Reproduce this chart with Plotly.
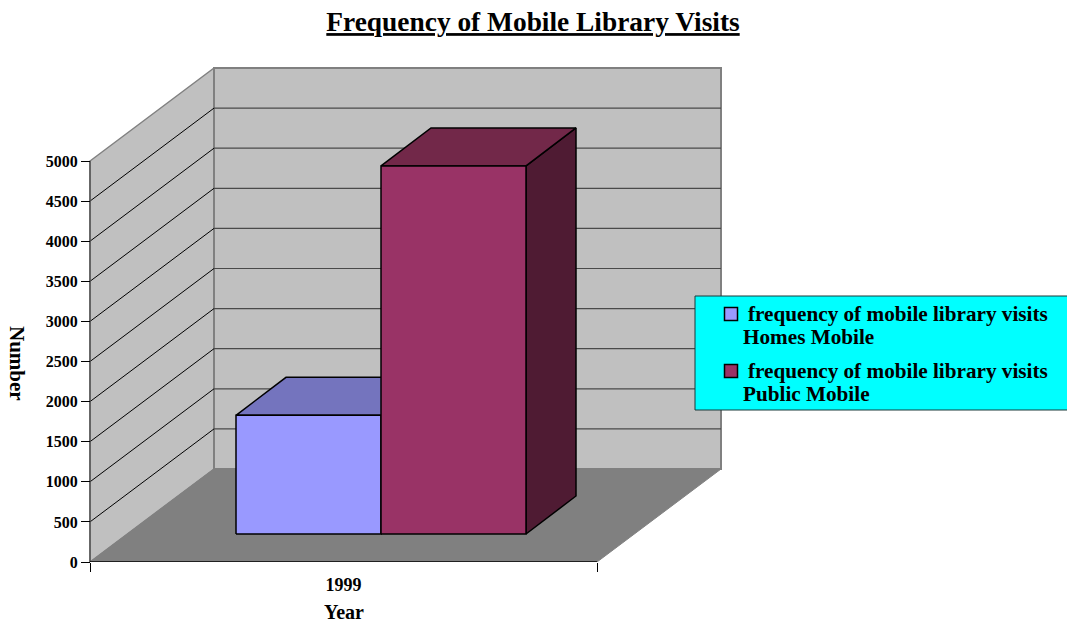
import plotly.graph_objects as go

# ---- data ----
categories = ["1999"]
legend_lines = [["frequency of mobile library visits", "Homes Mobile"],
                ["frequency of mobile library visits", "Public Mobile"]]
homes_mobile = [1480]
public_mobile = [4590]
y_ticks = [0, 500, 1000, 1500, 2000, 2500, 3000, 3500, 4000, 4500, 5000]
face_colors = ["#9999FF", "#993366"]
top_colors = ["#7474BE", "#722849"]
side_colors = ["#5F5F9E", "#4F1B33"]

# ---- oblique projection (x unit = 1 px, y unit = value) ----
W, H = 1067, 625
PX_PER_VALUE = 401 / 5000
AX_LEFT, AX_BASE = 90, 562
BAND = 507
DEPTH_X, DEPTH_Y = 124, 93 / PX_PER_VALUE
YMAX = AX_BASE / PX_PER_VALUE
FONT = "Liberation Serif"

fig = go.Figure()


def poly(xs, ys, fill=None, line="#000000", width=1, name=None):
    fig.add_trace(go.Scatter(
        x=xs, y=ys, mode="lines", hoverinfo="skip", showlegend=False, name=name,
        fill="toself" if fill else None, fillcolor=fill,
        line=dict(color=line, width=width)))


# walls and floor
ymax_tick = y_ticks[-1]
poly([0, DEPTH_X, DEPTH_X, 0, 0], [0, DEPTH_Y, DEPTH_Y + ymax_tick, ymax_tick, 0], "#C0C0C0", "#808080", 1.5)
poly([DEPTH_X, DEPTH_X + BAND, DEPTH_X + BAND, DEPTH_X, DEPTH_X],
     [DEPTH_Y, DEPTH_Y, DEPTH_Y + ymax_tick, DEPTH_Y + ymax_tick, DEPTH_Y], "#C0C0C0", "#808080", 2)
poly([0, BAND, BAND + DEPTH_X, DEPTH_X, 0], [0, 0, DEPTH_Y, DEPTH_Y, 0], "#808080", "#808080", 1)

# gridlines
for t in y_ticks[1:-1]:
    poly([0, DEPTH_X], [t, t + DEPTH_Y], None, "#000000", 1)
for t in y_ticks[1:-1]:
    poly([DEPTH_X, DEPTH_X + BAND], [t + DEPTH_Y, t + DEPTH_Y], None, "#4A4A4A", 1.2)

# axis lines
poly([0, 0], [0, ymax_tick], None, "#555555", 1.5)
poly([0, BAND], [0, 0], None, "#000000", 1.5)

# bars
BAR_W = 145
BAR_X0 = 146
BAR_BASE = 28 / PX_PER_VALUE
BAR_DX, BAR_DY = 50, 38 / PX_PER_VALUE
series = [homes_mobile, public_mobile]
for i in range(2):
    v = series[i][0]
    x0 = BAR_X0 + i * BAR_W
    x1 = x0 + BAR_W
    y0 = BAR_BASE
    y1 = BAR_BASE + v
    nm = " ".join(legend_lines[i])
    poly([x1, x1 + BAR_DX, x1 + BAR_DX, x1, x1], [y0, y0 + BAR_DY, y1 + BAR_DY, y1, y0], side_colors[i], "#000000", 1.5, nm)
    poly([x0, x0 + BAR_DX, x1 + BAR_DX, x1, x0], [y1, y1 + BAR_DY, y1 + BAR_DY, y1, y1], top_colors[i], "#000000", 1.5, nm)
    poly([x0, x1, x1, x0, x0], [y0, y0, y1, y1, y0], face_colors[i], "#000000", 1.5, nm)


def px_x(p):
    return p / W


def px_y(p):
    return 1 - p / H


# legend panel
shapes = [dict(type="rect", xref="paper", yref="paper", x0=px_x(695), x1=px_x(1068),
               y0=px_y(296), y1=px_y(410), fillcolor="#00FFFF",
               line=dict(color="#1A3A3A", width=1))]
annotations = []
LEG_FONT = dict(family=FONT, size=21.2, color="#000000", weight="bold")
for i in range(2):
    cy = 314 + i * 57
    shapes.append(dict(type="rect", xref="paper", yref="paper",
                       x0=px_x(724.5), x1=px_x(737.5), y0=px_y(cy - 6.5), y1=px_y(cy + 6.5),
                       fillcolor=face_colors[i], line=dict(color="#000000", width=1.5)))
    annotations.append(dict(text=legend_lines[i][0], xref="paper", yref="paper", x=px_x(746),
                            y=px_y(cy), showarrow=False, xanchor="left", yanchor="middle",
                            font=LEG_FONT))
    annotations.append(dict(text=legend_lines[i][1], xref="paper", yref="paper", x=px_x(741),
                            y=px_y(cy + 23), showarrow=False, xanchor="left", yanchor="middle",
                            font=LEG_FONT))

annotations += [
    dict(text="Number", xref="paper", yref="paper", x=px_x(17), y=px_y(363),
         textangle=90, showarrow=False, xanchor="center", yanchor="middle",
         font=dict(family=FONT, size=21, color="#000000", weight="bold")),
    dict(text="Year", xref="paper", yref="paper", x=px_x(344), y=px_y(612),
         showarrow=False, xanchor="center", yanchor="middle",
         font=dict(family=FONT, size=20, color="#000000", weight="bold")),
]

fig.update_layout(
    width=W, height=H, autosize=False,
    margin=dict(l=0, r=0, t=0, b=0, autoexpand=False),
    paper_bgcolor="#FFFFFF", plot_bgcolor="#FFFFFF",
    font=dict(family=FONT, size=16, color="#000000"),
    showlegend=False,
    title=dict(text="<u>Frequency of Mobile Library Visits</u>",
               x=533 / W, xanchor="center", y=px_y(21.5), yanchor="middle",
               font=dict(family=FONT, size=27.4, color="#000000", weight="bold")),
    xaxis=dict(range=[-AX_LEFT, W - AX_LEFT], domain=[0, 1], showgrid=False, zeroline=False,
               showline=False, tickmode="array", tickvals=[BAND / 2], ticktext=categories,
               ticks="", tickfont=dict(family=FONT, size=18, color="#000000", weight="bold"),
               ticklabelstandoff=10,
               minor=dict(tickmode="array", tickvals=[0, BAND], ticks="outside", ticklen=9,
                          tickwidth=1, tickcolor="#000000", showgrid=False)),
    yaxis=dict(range=[0, YMAX], domain=[(H - AX_BASE) / H, 1], anchor="free",
               position=AX_LEFT / W, showgrid=False, zeroline=False,
               showline=False, tickmode="array", tickvals=y_ticks,
               ticks="outside", ticklen=9, tickwidth=1, tickcolor="#000000",
               tickfont=dict(family=FONT, size=16, color="#000000", weight="bold")),
    shapes=shapes,
    annotations=annotations,
)

fig.write_html("out.html", config=dict(displayModeBar=False, staticPlot=True),
               post_script="document.body.style.margin='0';document.body.style.overflow='hidden';")
